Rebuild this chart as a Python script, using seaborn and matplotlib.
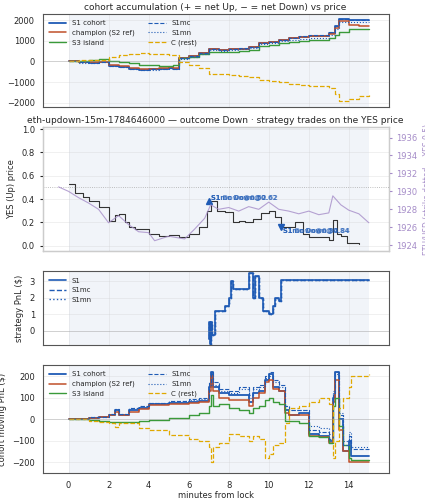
import numpy as np
import pandas as pd
import matplotlib
matplotlib.use('Agg')
import matplotlib.pyplot as plt
import seaborn as sns

sns.set_style('whitegrid')
plt.rcParams['font.family'] = ['DejaVu Sans']

# ---- panel 1: accumulated net YES shares ----
acc_t = [0, 0.5, 1, 1.5, 2, 2.5, 3, 3.5, 4, 4.5, 5, 5.2, 5.5, 6, 6.5, 7, 7.5, 8, 8.5, 9,
         9.5, 10, 10.5, 11, 11.5, 12, 12.5, 13, 13.3, 13.5, 14, 14.5, 15]
acc_s1 = [0, -50, -60, -30, -200, -250, -350, -400, -380, -350, -300, -350, 150, 250, 400, 600, 550,
          600, 620, 700, 900, 950, 1050, 1150, 1200, 1250, 1250, 1400, 1700, 2050, 2000, 2000, 2000]
acc_champ = [0, -40, -50, -20, -180, -230, -320, -370, -350, -330, -280, -320, 150, 250, 400, 580, 550,
             600, 620, 700, 880, 930, 1030, 1120, 1180, 1230, 1230, 1350, 1600, 1950, 1750, 1700, 1700]
acc_s3 = [0, 0, 50, 100, 0, -50, -100, -150, -150, -200, -200, -150, 150, 200, 350, 450, 450,
          450, 500, 550, 750, 800, 900, 950, 1000, 1050, 1050, 1150, 1300, 1450, 1550, 1550, 1550]
acc_s1mc = [0, -50, -60, -30, -200, -260, -360, -410, -390, -360, -310, -360, 150, 260, 410, 610, 560,
            610, 630, 710, 910, 960, 1060, 1160, 1210, 1260, 1260, 1410, 1720, 2070, 2030, 2030, 2030]
acc_s1mn = [0, -60, -70, -40, -220, -280, -380, -430, -410, -380, -330, -380, 120, 220, 370, 550, 520,
            560, 580, 650, 830, 880, 980, 1060, 1110, 1150, 1150, 1280, 1550, 1900, 1900, 1900, 1900]
acc_c = [0, 50, 60, 50, 200, 300, 350, 400, 380, 350, 330, 300, -50, -150, -300, -600, -600,
         -650, -700, -750, -900, -950, -1000, -1100, -1150, -1200, -1200, -1300, -1600, -1900, -1800, -1700, -1650]

# ---- panel 2: YES price and ETH/USD ----
yes_t = [0, 0.3, 0.7, 1.0, 1.5, 2.0, 2.3, 2.5, 2.8, 3.0, 3.3, 3.7, 4.0, 4.5, 5.0, 5.5, 6.0, 6.5, 6.9, 7.1,
         7.4, 7.8, 8.2, 8.5, 8.8, 9.2, 9.6, 10.0, 10.3, 10.6, 11.0, 11.3, 11.7, 12.0, 12.5, 13.0, 13.2, 13.4, 13.6, 13.9, 14.5]
yes_p = [0.53, 0.45, 0.42, 0.38, 0.33, 0.21, 0.26, 0.27, 0.2, 0.16, 0.14, 0.14, 0.1, 0.08, 0.09, 0.07, 0.1, 0.16, 0.3, 0.38,
         0.3, 0.29, 0.2, 0.21, 0.2, 0.23, 0.28, 0.3, 0.25, 0.16, 0.16, 0.2, 0.1, 0.07, 0.07, 0.05, 0.22, 0.1, 0.08, 0.02, 0.01]
eth_t = [-0.5, 0.0, 0.5, 1.0, 1.5, 2.0, 2.5, 3.0, 3.5, 4.0, 4.3, 5.0, 5.8, 6.3, 6.8, 7.1, 7.5, 8.0, 8.5, 9.0,
         9.5, 10.0, 10.5, 11.0, 11.5, 12.0, 12.5, 13.0, 13.2, 13.6, 14.0, 14.5, 15.0]
eth_p = [1930.5, 1930.0, 1929.3, 1928.7, 1928.0, 1926.5, 1927.3, 1926.3, 1925.5, 1925.4, 1924.5, 1925.0, 1924.7, 1925.8, 1927.0, 1928.5,
         1928.0, 1928.2, 1927.8, 1928.3, 1928.0, 1928.8, 1928.0, 1927.8, 1927.5, 1927.8, 1927.4, 1927.6, 1929.5, 1928.5, 1927.9, 1927.5, 1926.5]

# ---- panel 3: strategy PnL ----
pnl_t = [7.0, 7.03, 7.06, 7.1, 7.15, 7.3, 7.6, 7.8, 8.0, 8.1, 8.2, 8.8, 9.0, 9.2, 9.3, 9.5, 9.7, 10.0, 10.2, 10.3, 10.5, 10.6, 15.0]
pnl_s1 = [-0.5, 0.5, -0.8, 0.5, -0.3, 1.2, 1.2, 1.5, 2.0, 3.0, 2.5, 2.5, 3.5, 2.0, 3.3, 2.0, 1.2, 1.0, 1.5, 2.0, 1.8, 3.1, 3.1]

# ---- panel 4: cohort moving PnL ----
mv_t = [0, 1, 1.5, 2, 2.3, 2.5, 3, 3.5, 4, 5, 6, 6.5, 7, 7.1, 7.2, 7.5, 8, 8.5, 9, 9.2, 9.5, 9.8, 10,
        10.2, 10.5, 10.8, 11, 11.5, 12, 12.5, 13, 13.2, 13.3, 13.5, 13.7, 14, 14.1, 15]
mv_s1 = [0, 5, 10, 20, 40, 20, 40, 50, 70, 75, 80, 85, 150, 220, 150, 120, 110, 110, 80, 120, 130, 180, 210,
         150, 130, 40, 20, 30, -70, -80, -100, 100, 220, 0, -150, -100, -170, -170]
mv_champ = [0, 5, 10, 18, 35, 18, 35, 45, 65, 70, 75, 80, 130, 200, 130, 100, 90, 90, 60, 100, 120, 170, 180,
            140, 130, 30, 20, 20, -80, -85, -110, 80, 180, -50, -150, -200, -200, -200]
mv_s3 = [0, -5, -10, -15, -15, -15, -15, -10, -5, 5, 20, 30, 60, 110, 60, 70, 50, 40, 30, 50, 60, 90, 100,
         80, 70, -10, -10, -20, -80, -85, -110, 60, 100, -30, -120, -180, -190, -190]
mv_s1mc = [0, 8, 12, 25, 45, 25, 50, 60, 75, 85, 95, 100, 170, 220, 170, 140, 130, 150, 110, 150, 160, 200, 220,
           180, 160, 60, 40, 40, -50, -60, -90, 120, 220, 20, -120, -80, -140, -140]
mv_s1mn = [0, 8, 12, 25, 45, 25, 50, 60, 75, 85, 90, 95, 160, 210, 160, 130, 120, 140, 100, 140, 150, 190, 200,
           170, 150, 60, 40, 40, -30, -40, -70, 130, 210, 30, -100, -60, -130, -130]
mv_c = [0, -10, -15, -20, -35, -20, -20, -40, -50, -75, -90, -100, -130, -200, -130, -110, -70, -80, -100, -80, -90, -180, -160,
        -120, -110, -20, 50, 60, 80, 100, 70, -180, -100, 50, 100, 150, 200, 210]

BLUE = '#1f5bb5'
RED = '#c0502a'
GREEN = '#3a9a3a'
GOLD = '#e0a800'
PURPLE = '#a58cc8'

fig, axes = plt.subplots(4, 1, figsize=(4.25, 5.0), dpi=100, sharex=True,
                         gridspec_kw={'height_ratios': [93, 125, 74, 108]})
fig.subplots_adjust(left=0.1, right=0.915, top=0.972, bottom=0.054, hspace=0.2)


def line(ax, x, y, **kw):
    sns.lineplot(x=x, y=y, ax=ax, estimator=None, drawstyle='steps-post', **kw)


for ax in axes:
    ax.axvspan(0, 15, color='#e9edf6', alpha=0.6, lw=0, zorder=0)
    ax.tick_params(labelsize=6, length=2)
    ax.grid(True, lw=0.4, alpha=0.5)
    for s in ax.spines.values():
        s.set_color('#555555')
        s.set_linewidth(0.8)
axes[-1].set_xlim(-1.3, 16.0)
axes[-1].set_xticks(range(0, 15, 2))

def cohort(ax, t, s1, ch, s3, mc, mn, c):
    line(ax, t, s1, color=BLUE, lw=1.3, label='S1 cohort')
    line(ax, t, ch, color=RED, lw=1.1, label='champion (S2 ref)')
    line(ax, t, s3, color=GREEN, lw=1.0, label='S3 island')
    line(ax, t, mc, color=BLUE, lw=0.8, linestyle='--', label='S1mc')
    line(ax, t, mn, color=BLUE, lw=0.8, linestyle=':', label='S1mn')
    line(ax, t, c, color=GOLD, lw=0.9, linestyle='--', label='C (rest)')
    ax.axhline(0, color='#999999', lw=0.5, alpha=0.5)
    ax.legend(ncol=2, fontsize=5, loc='upper left', frameon=False, handlelength=2.5)

ax = axes[0]
cohort(ax, acc_t, acc_s1, acc_champ, acc_s3, acc_s1mc, acc_s1mn, acc_c)
ax.set_ylim(-2200, 2300)
ax.set_yticks([-2000, -1000, 0, 1000, 2000])
ax.set_ylabel('acc. net YES (shares)', fontsize=6)
ax.set_title('cohort accumulation (+ = net Up, \u2212 = net Down) vs price', fontsize=6.5, pad=3)

ax = axes[1]
sns.lineplot(x=yes_t, y=yes_p, ax=ax, estimator=None, drawstyle='steps-post', color='#333333', lw=0.8)
ax.axhline(0.5, color='#aaaaaa', lw=0.6, linestyle=':')
ax.set_ylim(-0.05, 1.02)
ax.set_yticks([0.0, 0.2, 0.4, 0.6, 0.8, 1.0])
ax.set_ylabel('YES (Up) price', fontsize=6)
ax.set_title('eth-updown-15m-1784646000 \u2014 outcome Down \u00b7 strategy trades on the YES price',
             fontsize=6.5, pad=3)
ax.plot([7.0], [0.38], marker='^', color=BLUE, ms=5, ls='none')
for lbl in ['S1mc Down@0.62', 'S1mn Down@0.62', 'S1 Down@0.62']:
    ax.text(7.1, 0.4, lbl, fontsize=4.8, color=BLUE, fontweight='bold', alpha=0.6)
ax.plot([10.6], [0.16], marker='v', color=BLUE, ms=5, ls='none')
for lbl in ['S1mc Down@0.84', 'S1mn Down@0.84', 'S1 Down@0.84']:
    ax.text(10.7, 0.12, lbl, fontsize=4.8, color=BLUE, fontweight='bold', alpha=0.6)
ax2 = ax.twinx()
sns.lineplot(x=eth_t, y=eth_p, ax=ax2, estimator=None, color=PURPLE, lw=0.8, alpha=0.8)
ax2.set_ylim(1923.3, 1937.2)
ax2.set_yticks(range(1924, 1937, 2))
ax2.grid(False)
ax2.tick_params(labelsize=6, length=2, colors=PURPLE)
ax2.set_ylabel('ETH/USD (strike dotted = YES 0.5)', fontsize=5.5, color=PURPLE)

ax = axes[2]
line(ax, pnl_t, pnl_s1, color=BLUE, lw=1.2, label='S1')
line(ax, pnl_t, pnl_s1, color=BLUE, lw=1.0, linestyle='--', label='S1mc')
line(ax, pnl_t, pnl_s1, color=BLUE, lw=1.0, linestyle=':', label='S1mn')
ax.axhline(0, color='#999999', lw=0.5, alpha=0.5)
ax.set_ylim(-0.9, 3.6)
ax.set_yticks([0, 1, 2, 3])
ax.set_ylabel('strategy PnL ($)', fontsize=6)
ax.legend(fontsize=5, loc='upper left', frameon=False, handlelength=2.5)

ax = axes[3]
cohort(ax, mv_t, mv_s1, mv_champ, mv_s3, mv_s1mc, mv_s1mn, mv_c)
ax.set_ylim(-250, 250)
ax.set_yticks([-200, -100, 0, 100, 200])
ax.set_ylabel('cohort moving PnL ($)', fontsize=6)
ax.set_xlabel('minutes from lock', fontsize=6, labelpad=1)

fig.savefig('out.png', dpi=100)
